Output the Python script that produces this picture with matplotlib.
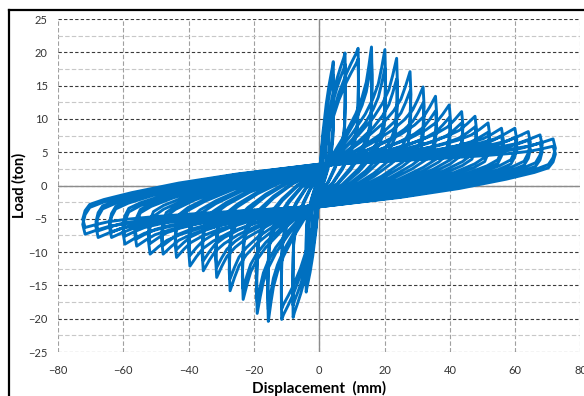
import numpy as np
import matplotlib
matplotlib.use('Agg')
import matplotlib.pyplot as plt
from matplotlib.lines import Line2D

plt.rcParams['font.family'] = ['Lato', 'DejaVu Sans']

# Peak values of each displacement level
# (two cycles per level: the second one peaks a bit lower)
disp_pos = [4.3, 7.9, 11.9, 16.0, 20.1, 23.7, 27.8, 31.8, 35.6, 39.8,
            43.6, 47.7, 51.7, 55.8, 59.9, 64.0, 67.6, 71.6]
load_pos_1 = [18.6, 19.9, 20.6, 20.8, 20.4, 19.1, 17.1, 14.8, 13.4, 12.1,
              11.1, 10.4, 9.4, 8.6, 8.6, 8.1, 7.6, 7.0]
load_pos_2 = [16.5, 18.2, 19.0, 18.8, 17.6, 16.0, 14.2, 12.4, 11.2, 10.2,
              9.4, 8.8, 8.0, 7.4, 7.2, 6.8, 6.4, 5.9]
disp_neg = [-4.0, -8.0, -11.5, -15.6, -19.0, -23.3, -27.3, -31.4, -35.5, -39.6,
            -43.7, -47.8, -51.8, -55.9, -59.5, -63.6, -67.7, -71.7]
load_neg_1 = [-16.0, -19.8, -20.1, -20.4, -19.2, -17.1, -15.8, -13.8, -12.8, -12.1,
              -10.8, -10.3, -10.3, -9.1, -8.8, -7.8, -7.8, -7.3]
load_neg_2 = [-14.5, -18.0, -18.5, -18.6, -17.4, -15.5, -14.0, -12.3, -11.3, -10.5,
              -9.6, -9.0, -8.7, -8.0, -7.6, -7.0, -6.8, -6.3]
# load where each loop crosses zero displacement (pinching)
pinch_load = [1.0, 1.4, 1.7, 1.9, 2.1, 2.3, 2.4, 2.5, 2.6, 2.7,
              2.8, 2.9, 2.9, 3.0, 3.0, 3.1, 3.1, 3.2]
# first levels still load almost linearly (no pinching yet)
n_early = 3

# first small (almost elastic) cycles
init_disp_pos = [1.0, 2.0, 3.0]
init_load_pos = [4.5, 8.0, 11.0]
init_disp_neg = [-1.2, -2.2, -3.2]
init_load_neg = [-5.0, -9.0, -12.5]
init_pinch = [0.2, 0.4, 0.7]

# shape of one half loop
# reloading: load = c + f * (peak - c)
reload_d = [0.00, 0.25, 0.50, 0.70, 0.82, 0.90, 0.95, 0.98, 1.00]
reload_f = [0.00, 0.14, 0.31, 0.47, 0.60, 0.72, 0.85, 0.94, 1.00]
reload_f_early = [0.00, 0.38, 0.64, 0.80, 0.88, 0.93, 0.96, 0.985, 1.00]
# unloading: load = a * peak - b * c
unload_d = [1.01, 1.00, 0.98, 0.92, 0.80, 0.60, 0.35, 0.00]
unload_a = [0.80, 0.60, 0.45, 0.36, 0.27, 0.17, 0.08, 0.00]
unload_b = [0.00, 0.00, 0.00, 0.05, 0.20, 0.45, 0.70, 1.00]

cycles = [(a, b, c, d, e, True) for a, b, c, d, e in
          zip(init_disp_pos, init_load_pos, init_disp_neg, init_load_neg, init_pinch)]
for i in range(len(disp_pos)):
    early = i < n_early
    cycles.append((disp_pos[i], load_pos_1[i], disp_neg[i], load_neg_1[i], pinch_load[i], early))
    cycles.append((disp_pos[i], load_pos_2[i], disp_neg[i], load_neg_2[i], pinch_load[i], early))


def half_loop(d, p, c, early):
    rf = reload_f_early if early else reload_f
    x = [d * f for f in reload_d] + [d * f for f in unload_d]
    y = [c + f * (p - c) for f in rf] + \
        [a * p - b * c for a, b in zip(unload_a, unload_b)]
    return x, y


xs, ys = [], []
for dp, pp, dn, pn, c, early in cycles:
    x, y = half_loop(dp, pp, c, early)
    xs += x
    ys += y
    x, y = half_loop(dn, pn, -c, early)
    xs += x
    ys += y

fig = plt.figure(figsize=(5.84, 3.96), dpi=100)
ax = fig.add_axes([0.0993, 0.111, 0.8947, 0.841])

ax.plot(xs, ys, color='#0070C0', lw=2.1, solid_joinstyle='round', zorder=3)

ax.set_xlim(-80, 80)
ax.set_ylim(-25, 25)
ax.set_xticks(np.arange(-80, 81, 20))
ax.set_yticks(np.arange(-25, 26, 5))
ax.set_yticks(np.arange(-22.5, 25, 5), minor=True)

ax.grid(which='major', axis='y', color='#3a3a3a', linestyle=(0, (3, 2)), lw=0.8)
ax.grid(which='minor', axis='y', color='#c8c8c8', linestyle=(0, (4, 2)), lw=0.8)
ax.grid(which='major', axis='x', color='#a0a0a0', linestyle=(0, (4, 2)), lw=0.8)
ax.axhline(0, color='#8c8c8c', lw=1.0, zorder=2)
ax.axvline(0, color='#8c8c8c', lw=1.0, zorder=2)

for s in ax.spines.values():
    s.set_visible(False)
ax.tick_params(which='both', length=0, labelsize=8, colors='#333333')
ax.tick_params(axis='y', pad=7.5)
ax.tick_params(axis='x', pad=9)

ax.set_xlabel('Displacement  (mm)', fontsize=11, fontweight='bold', labelpad=4)
ax.set_ylabel('Load (ton)', fontsize=10.5, fontweight='bold')
ax.yaxis.set_label_coords(-0.061, 0.5)

# outer chart frame (left and top edges are visible in the crop)
fig.add_artist(Line2D([9 / 584, 9 / 584], [0, 1 - 10 / 396], color='black', lw=1.6))
fig.add_artist(Line2D([9 / 584, 1], [1 - 10 / 396, 1 - 10 / 396], color='black', lw=1.6))

fig.savefig('out.png', dpi=100)
